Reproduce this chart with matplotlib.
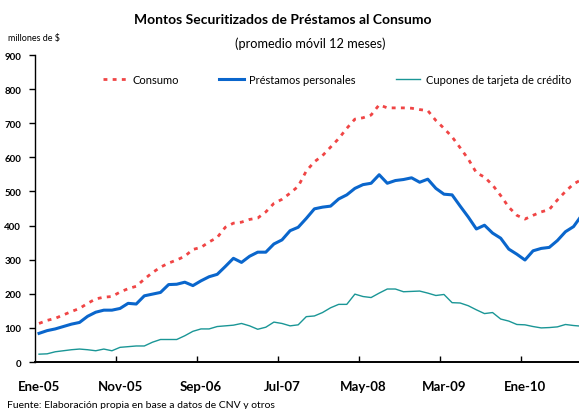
import numpy as np
import matplotlib
matplotlib.use('Agg')
import matplotlib.pyplot as plt

plt.rcParams['font.family'] = ['Lato', 'DejaVu Sans']

# monthly values, Ene-05 onwards (millones de $)
consumo = [113, 122, 128, 138, 148, 157, 172, 185, 190, 192,
           205, 215, 222, 243, 262, 278, 290, 299, 310, 330,
           336, 352, 365, 395, 407, 410, 418, 422, 440, 465,
           477, 495, 515, 560, 587, 605, 630, 655, 685, 712,
           716, 724, 754, 745, 745, 745, 744, 740, 737, 708,
           685, 660, 628, 595, 555, 542, 519, 488, 454, 430,
           419, 430, 440, 447, 475, 500, 522, 535]
prestamos = [84, 92, 97, 104, 111, 116, 134, 146, 152, 152,
             157, 172, 170, 194, 199, 204, 227, 228, 234, 224,
             238, 250, 257, 280, 304, 292, 310, 322, 322, 346,
             358, 385, 395, 421, 449, 454, 457, 478, 490, 509,
             520, 524, 549, 524, 532, 535, 540, 527, 536, 509,
             492, 490, 457, 425, 390, 401, 378, 363, 331, 316,
             299, 326, 333, 336, 356, 382, 397, 430]
cupones = [23, 24, 30, 33, 36, 38, 36, 33, 38, 33,
           43, 45, 47, 47, 58, 66, 66, 66, 77, 90,
           97, 97, 104, 106, 108, 113, 106, 96, 102, 117,
           113, 106, 109, 133, 135, 145, 159, 169, 169, 199,
           192, 189, 202, 214, 214, 206, 207, 208, 202, 195,
           198, 174, 173, 165, 153, 142, 145, 126, 120, 110,
           109, 104, 100, 101, 103, 110, 107, 105]

tick_labels = ['Ene-05', 'Nov-05', 'Sep-06', 'Jul-07', 'May-08', 'Mar-09', 'Ene-10']

x = np.arange(len(consumo))

fig = plt.figure(figsize=(5.79, 4.10), dpi=100)
ax = fig.add_axes([0.0604, 0.1146, 0.94, 0.7488])

ax.plot(x, consumo, color='#f04545', lw=2.0, ls=(0, (1.4, 1.9)),
        dash_capstyle='butt', label='Consumo')
ax.plot(x, prestamos, color='#0a66cc', lw=2.2, label='Préstamos personales')
ax.plot(x, cupones, color='#1a9696', lw=1.0, label='Cupones de tarjeta de crédito')

ax.set_xlim(-0.5, 66.7)
ax.set_ylim(0, 900)
ax.set_yticks(range(0, 901, 100))
ax.tick_params(axis='y', direction='out', length=4, width=1, pad=6, labelsize=7)
for t in ax.get_yticklabels():
    t.set_fontweight('bold')

# tick marks between categories, labels on categories
ax.set_xticks(np.arange(9.5, 66, 10))
ax.set_xticklabels([])
ax.tick_params(axis='x', which='major', direction='in', length=4, width=1)
ax.set_xticks(np.arange(0, 61, 10), minor=True)
ax.set_xticklabels(tick_labels, minor=True, fontsize=9.5, fontweight='bold')
ax.tick_params(axis='x', which='minor', length=0, pad=13)

for s in ['top', 'right']:
    ax.spines[s].set_visible(False)
ax.spines['left'].set_linewidth(1.0)
ax.spines['bottom'].set_linewidth(1.4)

ax.legend(loc='center', bbox_to_anchor=(0.555, 0.92), ncol=3, frameon=False,
          fontsize=8, handlelength=2.2, handletextpad=0.5, columnspacing=3.6)

fig.text(0.489, 0.951, 'Montos Securitizados de Préstamos al Consumo',
         ha='center', va='center', fontsize=10, fontweight='bold')
fig.text(0.535, 0.893, '(promedio móvil 12 meses)', ha='center', va='center', fontsize=9.2)
fig.text(0.014, 0.907, 'millones de $', ha='left', va='center', fontsize=6.5)
fig.text(0.012, 0.012, 'Fuente: Elaboración propia en base a datos de CNV y otros',
         ha='left', va='center', fontsize=7.5)

fig.savefig('out.png', dpi=100)
